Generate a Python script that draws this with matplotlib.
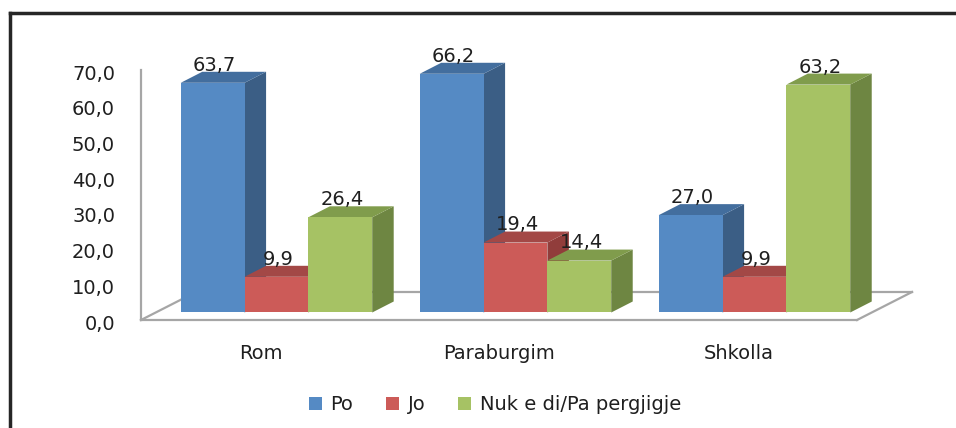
import matplotlib
matplotlib.use("Agg")
import matplotlib.pyplot as plt
from matplotlib.patches import Polygon, Rectangle, Patch
from matplotlib.lines import Line2D
from matplotlib.transforms import Affine2D

# data
categories = ["Rom", "Paraburgim", "Shkolla"]
series = ["Po", "Jo", "Nuk e di/Pa pergjigje"]
po = [63.7, 66.2, 27.0]
jo = [9.9, 19.4, 9.9]
nuk = [26.4, 14.4, 63.2]
yticks = [0, 10, 20, 30, 40, 50, 60, 70]

# colours: front, side, top faces
front = ["#558ac4", "#cc5b58", "#a6c264"]
side = ["#3b5e85", "#913d3b", "#6e8642"]
top = ["#436e9e", "#a34846", "#809c4c"]
txt = "#1f1f1f"
fs = 14

W, H = 956, 428
fig = plt.figure(figsize=(W / 100, H / 100), dpi=100)
# pixel coords, origin top-left
px = Affine2D().scale(1 / W, -1 / H).translate(0, 1) + fig.transFigure

def box(l, b, t, r):
    return [l / W, 1 - b / H, (r - l) / W, (b - t) / H]

# main axes for the bars
ax = fig.add_axes(box(140, 320, 30, 912))
ax.set_xlim(-0.571, 2.659)
ax.set_ylim(-2.08, 78.34)
ax.patch.set_visible(False)
for s in ax.spines.values():
    s.set_visible(False)
ax.set_yticks([])
ax.set_xticks([i - 0.067 for i in range(len(categories))])
ax.set_xticklabels(categories, fontsize=fs, color=txt)
ax.tick_params(axis="x", length=0, pad=17)

# floor + wall edge (3d decoration)
grey = "#a6a6a6"
floor = [((141, 70), (141, 320)), ((141, 320), (857, 320)), ((857, 320), (912, 292)),
         ((196, 292), (912, 292)), ((141, 320), (196, 292))]
for (x1, y1), (x2, y2) in floor:
    ax.plot([x1, x2], [y1, y2], color=grey, lw=1.6, transform=px, clip_on=False, zorder=0)

bw = 0.267   # bar width in category units
dx = 0.09    # depth offset x
dy = 3.05    # depth offset y (value units)
vals = [po, jo, nuk]
for i in range(len(categories)):
    for j, v_list in enumerate(vals):
        v = v_list[i]
        x0 = i - 1.5 * bw + j * bw
        ax.add_patch(Polygon([(x0 + bw, 0), (x0 + bw + dx, dy), (x0 + bw + dx, v + dy), (x0 + bw, v)],
                             closed=True, facecolor=side[j], edgecolor="none", zorder=2, clip_on=False))
        ax.add_patch(Polygon([(x0, v), (x0 + dx, v + dy), (x0 + bw + dx, v + dy), (x0 + bw, v)],
                             closed=True, facecolor=top[j], edgecolor="none", zorder=2, clip_on=False))
        ax.add_patch(Rectangle((x0, 0), bw, v, facecolor=front[j], edgecolor="none", zorder=2,
                               clip_on=False))
        ax.text(x0 + bw / 2 + 0.008, v + dy + 0.3, f"{v:.1f}".replace(".", ","), ha="center",
                va="baseline", fontsize=fs, color=txt, zorder=5, clip_on=False)

# value axis labels (back wall scale)
y0, k = 322, 3.571
ax2 = fig.add_axes(box(140, 330, 30, 150))
ax2.set_ylim((y0 - 330) / k, (y0 - 30) / k)
ax2.patch.set_visible(False)
for s in ax2.spines.values():
    s.set_visible(False)
ax2.set_xticks([])
ax2.set_yticks(yticks)
ax2.set_yticklabels([f"{t:.1f}".replace(".", ",") for t in yticks], fontsize=fs, color=txt)
ax2.tick_params(axis="y", length=0, pad=18)

# chart border
fig.add_artist(Line2D([10, 10], [428, 13.5], color="#262626", lw=2.5, transform=px))
fig.add_artist(Line2D([10, 956], [13.5, 13.5], color="#262626", lw=2.5, transform=px))

handles = [Patch(facecolor=front[j], label=series[j]) for j in range(3)]
fig.legend(handles=handles, loc="center", bbox_to_anchor=(495 / W, 1 - 405 / H), ncol=3,
           frameon=False, fontsize=fs, handlelength=0.67, handleheight=0.67,
           handletextpad=0.42, columnspacing=1.7, labelcolor=txt)

fig.savefig("out.png", dpi=100, facecolor="white")
